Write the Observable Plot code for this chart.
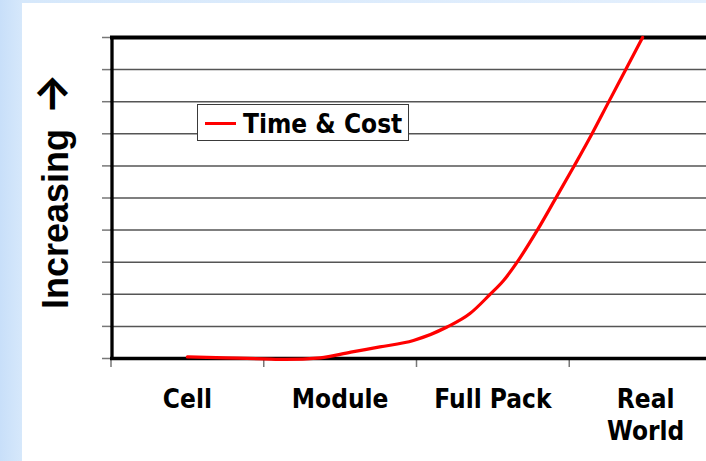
<!DOCTYPE html>
<html>
<head>
<meta charset="utf-8">
<script src="https://cdn.jsdelivr.net/npm/d3@7"></script>
<script src="https://cdn.jsdelivr.net/npm/@observablehq/plot@0.6"></script>
<style>
  html, body { margin: 0; padding: 0; width: 706px; height: 461px; overflow: hidden; }
  body { position: relative; background: linear-gradient(90deg, #c8dff9 0px, #d6e8fb 22px, #e3effd 706px); }
  #panel { position: absolute; left: 22px; top: 3px; width: 684px; height: 458px; background: #fff; overflow: hidden; }
  #panel svg { display: block; background: #fff; }
  #legend {
    position: absolute; left: 175px; top: 101px; width: 210px;
    border: 1px solid #3a3a3a; background: #fff;
    display: flex; align-items: center; box-sizing: content-box; padding-top: 2px; height: 33px;
    font: bold 26px "DejaVu Sans Condensed", "DejaVu Sans", sans-serif; font-stretch: condensed; color: #000;
  }
  #legend .swatch { width: 31px; height: 3px; background: #ff0000; margin: 0 7px 0 7px; flex: none; }
</style>
</head>
<body>
<div id="panel">
  <div id="chart"></div>
  <div id="legend"><span class="swatch"></span><span id="legend-label"></span></div>
</div>
<script>
// Stage names along the horizontal axis (one band per stage)
const categories = ["Cell", "Module", "Full Pack", "Real\nWorld"];
// Band boundaries where the bottom axis has tick marks
const stageBoundaries = [0, 1, 2, 3, 4];
// Horizontal gridlines / left ticks (unitless scale)
const yTicks = [0, 1, 2, 3, 4, 5, 6, 7, 8, 9, 10];

// Time & Cost curve: position along the stages, and relative level
const curveX = [0.50, 0.75, 1.00, 1.14, 1.37, 1.57, 1.76, 1.98, 2.20, 2.35, 2.48, 2.57, 2.66, 2.79, 2.91, 3.03, 3.15, 3.26, 3.37, 3.48];
const curveY = [0.05, 0.02, -0.01, -0.03, 0.02, 0.20, 0.36, 0.56, 0.98, 1.40, 1.99, 2.43, 3.01, 3.99, 4.98, 5.98, 7.01, 8.01, 9.00, 10.0];

const seriesName = "Time & Cost";
// vertical axis title: word and arrow (the arrow uses a font with a bold, wide head)
const yTitleWord = "Increasing";
const yTitleArrow = "\u2192";

const curve = curveX.map((x, i) => ({x, y: curveY[i]}));

const labelFont = "'DejaVu Sans Condensed', 'DejaVu Sans', sans-serif";

const chart = Plot.plot({
  width: 684,
  height: 458,
  marginLeft: 88,
  marginRight: 0,
  marginTop: 34,
  marginBottom: 103,
  x: {type: "linear", domain: [0, 4], range: [88.5, 699.5]},
  y: {type: "linear", domain: [0, 10]},
  marks: [
    Plot.gridY({ticks: yTicks, stroke: "#555", strokeOpacity: 1, strokeWidth: 1.5}),
    Plot.axisY({ticks: yTicks, tickSize: 8, tickFormat: () => "", stroke: "#777", strokeWidth: 1.5, label: null}),
    Plot.axisX({ticks: stageBoundaries, tickSize: 9, tickFormat: () => "", stroke: "#777", strokeWidth: 1.5, label: null}),
    // plot area border: top, bottom and left
    Plot.ruleY([yTicks[yTicks.length - 1]], {stroke: "#000", strokeWidth: 4}),
    Plot.ruleY([yTicks[0]], {stroke: "#000", strokeWidth: 3.3}),
    Plot.ruleX([stageBoundaries[0]], {stroke: "#000", strokeWidth: 3.3, dx: 1}),
    Plot.line(curve, {x: "x", y: "y", stroke: "#ff0000", strokeWidth: 3.2, curve: "monotone-x"}),
    Plot.text(categories, {
      x: (d, i) => i + 0.5, text: d => d, frameAnchor: "bottom",
      lineAnchor: "top", textAnchor: "middle", dy: 26.5, lineHeight: 1.23,
      fontSize: 26, fontWeight: "bold", fontFamily: labelFont, fill: "#000"
    }),
    Plot.text([yTitleWord], {
      text: d => d, frameAnchor: "left", rotate: -90, dx: -54.5, dy: 21,
      textAnchor: "middle", lineAnchor: "middle",
      fontSize: 36, fontWeight: "bold", fontFamily: "'Liberation Sans', Arial, sans-serif", fill: "#000"
    }),
    Plot.text([yTitleArrow], {
      text: d => d, frameAnchor: "left", rotate: -90, dx: -59, dy: -104,
      textAnchor: "middle", lineAnchor: "middle",
      fontSize: 44, fontWeight: "bold", fontFamily: "Inter, 'DejaVu Sans', sans-serif", fill: "#000"
    })
  ]
});

document.getElementById("chart").appendChild(chart);
document.getElementById("legend-label").textContent = seriesName;
</script>
</body>
</html>
